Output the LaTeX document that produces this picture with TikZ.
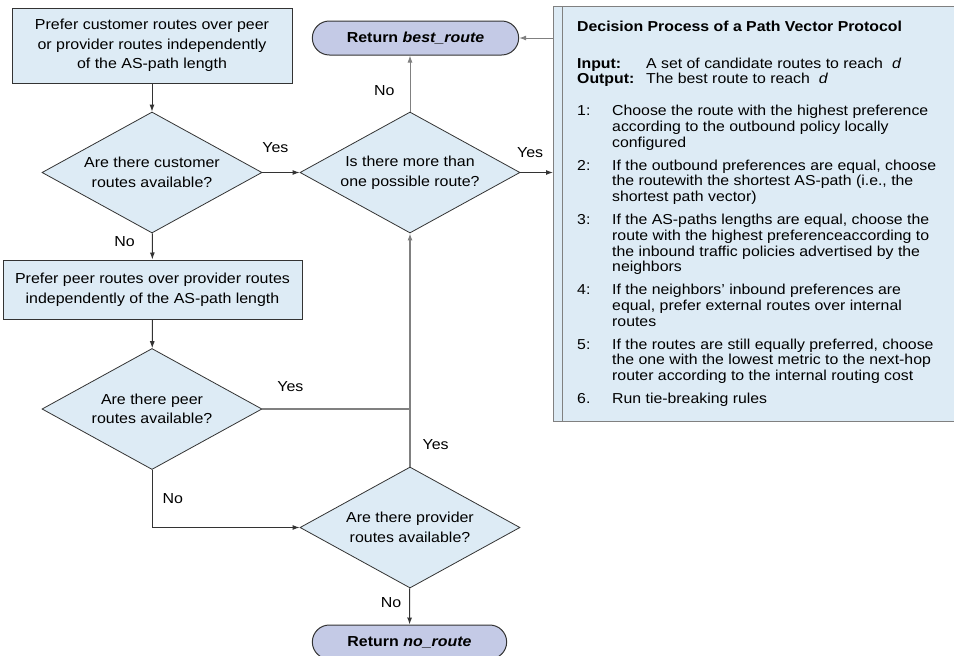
\documentclass[tikz,border=0pt]{standalone}
\usepackage{fontspec}
\setmainfont[FakeStretch=1.1]{Liberation Sans}
\usetikzlibrary{arrows.meta, positioning, shapes.geometric, shapes.misc}
\definecolor{cfill}{HTML}{DDEBF5}
\definecolor{cterm}{HTML}{C4CAE6}
\definecolor{cline}{HTML}{333333}
\definecolor{cgray}{HTML}{808080}

\begin{document}
\begin{tikzpicture}[
  x=1pt, y=-1pt,
  font=\fontsize{14.5}{19.5}\selectfont,
  >={Latex[length=7pt,width=5pt]},
  stepbox/.style={draw=cline, fill=cfill, line width=1pt, align=center, inner sep=0pt},
  decision/.style={diamond, draw=cline, fill=cfill, line width=0.8pt, align=center,
               inner sep=0pt, aspect=1.82, minimum width=220pt, minimum height=121pt},
  terminal/.style={rounded rectangle, draw=cline, fill=cterm, line width=1pt,
               minimum height=34pt, font=\fontsize{14.5}{19.5}\selectfont\bfseries},
  arr/.style={->, line width=1pt, draw=cline},
  arrg/.style={line width=1.2pt, draw=cgray},
  lbl/.style={inner sep=0pt},
  ]
\clip (0,0) rectangle (954,656);

% flowchart
\node[stepbox, minimum width=280pt, minimum height=75pt] (b1) at (152,45.5)
  {Prefer customer routes over peer\\or provider routes independently\\of the AS-path length};
\node[decision] (d1) at (152,172.5) {Are there customer\\routes available?};
\node[decision] (d2) at (410,172.5) {Is there more than\\one possible route?};
\node[terminal, minimum width=213pt] (best) at (415.5,38) {Return \textit{best\_route}};
\node[stepbox, minimum width=299pt, minimum height=59pt] (b2) at (152.5,289.5)
  {Prefer peer routes over provider routes\\independently of the AS-path length};
\node[decision] (d3) at (152,409) {Are there peer\\routes available?};
\node[decision] (d4) at (410,527.5) {Are there provider\\routes available?};
\node[terminal, minimum width=201pt] (none) at (409.5,642) {Return \textit{no\_route}};

% algorithm panel
\node[draw=cgray, fill=cfill, line width=1pt, minimum width=420pt, minimum height=415pt,
      anchor=north west, inner sep=0pt] (panel) at (553,6) {};
\draw[cgray, line width=1pt] ([xshift=9pt]panel.north west) -- ([xshift=9pt]panel.south west);
\node[anchor=north west, align=left, inner sep=0pt, font=\fontsize{14.4}{15.7}\selectfont] (algo) at (577,20.5) {
  \textbf{Decision Process of a Path Vector Protocol}\\[21.3pt]
  \makebox[69pt][l]{\textbf{Input:}}A set of candidate routes to reach\hspace{9pt}\textit{d}\\
  \makebox[69pt][l]{\textbf{Output:}}The best route to reach\hspace{9pt}\textit{d}\\[16.3pt]
  \makebox[35pt][l]{1:}Choose the route with the highest preference\\
  \hspace*{35pt}according to the outbound policy locally\\
  \hspace*{35pt}configured\\[7.3pt]
  \makebox[35pt][l]{2:}If the outbound preferences are equal, choose\\
  \hspace*{35pt}the routewith the shortest AS-path (i.e., the\\
  \hspace*{35pt}shortest path vector)\\[7.3pt]
  \makebox[35pt][l]{3:}If the AS-paths lengths are equal, choose the\\
  \hspace*{35pt}route with the highest preferenceaccording to\\
  \hspace*{35pt}the inbound traffic policies advertised by the\\
  \hspace*{35pt}neighbors\\[7.3pt]
  \makebox[35pt][l]{4:}If the neighbors' inbound preferences are\\
  \hspace*{35pt}equal, prefer external routes over internal\\
  \hspace*{35pt}routes\\[7.3pt]
  \makebox[35pt][l]{5:}If the routes are still equally preferred, choose\\
  \hspace*{35pt}the one with the lowest metric to the next-hop\\
  \hspace*{35pt}router according to the internal routing cost\\[7.3pt]
  \makebox[35pt][l]{6.}Run tie-breaking rules
};

% connectors
\draw[arr] (b1) -- (d1);
\draw[arr] (d1) -- node[lbl, pos=0.35, above=19pt] {Yes} (d2);
\draw[arr, draw=cgray] (d2.north) -- node[lbl, pos=0.37, left=15pt] {No} (d2.north |- best.south);
\draw[arr] (d2.east) -- node[lbl, pos=0.3, above=14pt] {Yes} (d2.east -| panel.west);
\draw[arr, draw=cgray] (panel.west |- best) -- (best.east);
\draw[arr] (d1) -- node[lbl, pos=0.33, left=17pt] {No} (b2);
\draw[arr] (b2) -- (d3);
\draw[arrg] (d3.east) -- node[lbl, pos=0.19, above=17pt] {Yes} (d3.east -| d4.north);
\draw[arrg, ->] (d4.north) -- node[lbl, pos=0.094, right=12pt] {Yes} (d2.south);
\draw[arr] (d3.south) |- node[lbl, pos=0.25, right=10pt] {No} (d4.west);
\draw[arr] (d4) -- node[lbl, pos=0.4, left=8pt] {No} (none);
\end{tikzpicture}
\end{document}
